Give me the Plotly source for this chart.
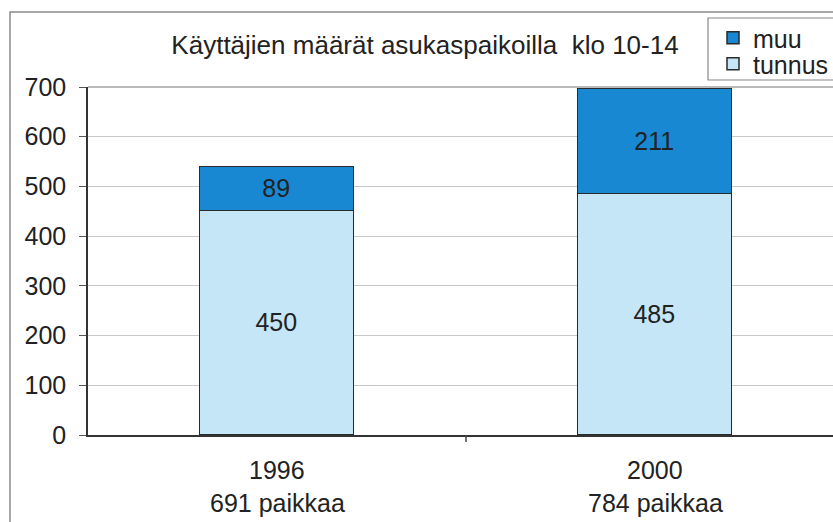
import plotly.graph_objects as go

years = ["1996", "2000"]
places = ["691 paikkaa", "784 paikkaa"]
tunnus = [450, 485]
muu = [89, 211]
title_text = "Käyttäjien määrät asukaspaikoilla  klo 10-14"

FONT = "Liberation Sans, Arial, Helvetica, sans-serif"
TXT = "#222222"
FS = 25

W, H = 833, 522
L, R, T, B = 88, 0, 87, 87
pw = W - L - R
ph = H - T - B

def px_x(px):
    return (px - L) / pw

def px_y(py):
    return (H - B - py) / ph

xpos = list(range(len(years)))

fig = go.Figure()
fig.add_trace(go.Bar(
    x=xpos, y=tunnus, name="tunnus", width=0.41, legend="legend2",
    marker=dict(color="#c4e6f7", line=dict(color="#2a2a2a", width=1.5)),
    text=[str(v) for v in tunnus], textposition="inside", insidetextanchor="middle",
    textfont=dict(size=FS, color=TXT, family=FONT), constraintext="none",
))
fig.add_trace(go.Bar(
    x=xpos, y=muu, name="muu", width=0.41, legend="legend",
    marker=dict(color="#1888d2", line=dict(color="#2a2a2a", width=1.5)),
    text=[str(v) for v in muu], textposition="inside", insidetextanchor="middle",
    textfont=dict(size=FS, color=TXT, family=FONT), constraintext="none",
))

annotations = []
for i, (yr, pl) in enumerate(zip(years, places)):
    annotations.append(dict(x=i, y=px_y(470), xref="x", yref="paper", text=yr,
                            showarrow=False, font=dict(size=FS, color=TXT, family=FONT),
                            yanchor="middle"))
    annotations.append(dict(x=i, y=px_y(503), xref="x", yref="paper", text=pl,
                            showarrow=False, font=dict(size=FS, color=TXT, family=FONT),
                            yanchor="middle"))

shapes = [
    dict(type="path", xref="paper", yref="paper",
         path=f"M {px_x(10)},{px_y(530)} L {px_x(10)},{px_y(12)} L {px_x(840)},{px_y(12)}",
         line=dict(color="#8a8a8a", width=1.5)),
    dict(type="line", xref="x", yref="paper", x0=0.5, x1=0.5, y0=0, y1=px_y(442),
         line=dict(color="#444444", width=1.5)),
    dict(type="line", xref="paper", yref="paper", x0=0, x1=1, y0=1, y1=1,
         line=dict(color="#777777", width=1.2)),
    # legend frame
    dict(type="rect", xref="paper", yref="paper", x0=px_x(708), x1=px_x(845),
         y0=px_y(80), y1=px_y(18), line=dict(color="#888888", width=1.2),
         fillcolor="white", layer="above"),
]

leg_common = dict(xanchor="left", yanchor="middle", bgcolor="rgba(0,0,0,0)",
                  borderwidth=0, font=dict(size=FS, color=TXT, family=FONT),
                  itemwidth=30)

fig.update_layout(
    width=W, height=H,
    margin=dict(l=L, r=R, t=T, b=B, autoexpand=False),
    paper_bgcolor="white", plot_bgcolor="white",
    barmode="stack",
    font=dict(family=FONT, color=TXT, size=FS),
    title=dict(text=title_text, x=425 / W, xanchor="center", y=1 - 45 / H, yanchor="middle",
               font=dict(size=26, color=TXT, family=FONT)),
    showlegend=True,
    legend=dict(x=px_x(713), y=px_y(38), **leg_common),
    legend2=dict(x=px_x(713), y=px_y(64), **leg_common),
    annotations=annotations,
    shapes=shapes,
    bargap=0,
)
fig.update_xaxes(range=[-0.5, -0.5 + pw / 378.0], tickvals=xpos, ticktext=["", ""],
                 showgrid=False, showline=True, linecolor="#333333", linewidth=1.5,
                 ticks="", zeroline=False, fixedrange=True)
fig.update_yaxes(range=[0, 700], dtick=100, tick0=0, showgrid=True, gridcolor="#c8c8c8",
                 gridwidth=1, showline=True, linecolor="#333333", linewidth=1.5,
                 ticks="outside", ticklen=7, tickcolor="#555555", zeroline=False,
                 tickfont=dict(size=FS, color=TXT, family=FONT), ticklabelstandoff=8)

fig.write_html("out.html", post_script="document.body.style.margin='0';",
               config={"displayModeBar": False})
